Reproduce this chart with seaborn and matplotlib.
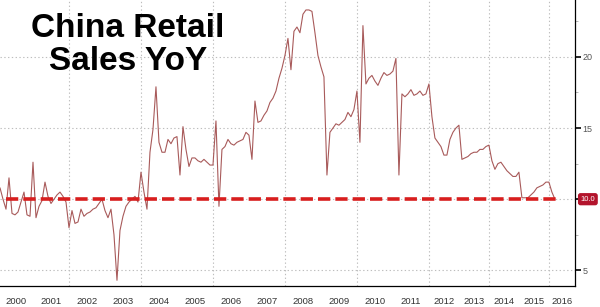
import numpy as np
import pandas as pd
import matplotlib
matplotlib.use("Agg")
import matplotlib.pyplot as plt
import seaborn as sns

# ---- data (China retail sales YoY, %) ----
years = [2000, 2001, 2002, 2003, 2004, 2005, 2006, 2007, 2008,
         2009, 2010, 2011, 2012, 2013, 2014, 2015, 2016]
v2000 = [10.8, 10.0, 9.3, 11.5, 9.0, 8.9, 9.1, 9.8, 10.5, 8.9, 8.8]
v2001 = [12.6, 8.7, 9.5, 9.9, 11.2, 10.2, 9.7, 10.0, 10.3, 10.5, 10.2, 9.8]
v2002 = [8.0, 9.2, 8.3, 8.4, 9.3, 8.8, 9.0, 9.1, 9.3, 9.4, 9.7, 10.0]
v2003 = [9.2, 8.7, 9.3, 7.5, 4.3, 7.8, 8.8, 9.5, 9.8, 10.0, 10.2, 9.8]
v2004 = [11.9, 10.5, 9.3, 13.3, 14.9, 17.9, 14.0, 13.3, 13.3, 14.2, 13.9, 14.3]
v2005 = [14.4, 11.7, 15.1, 13.5, 12.3, 12.9, 12.9, 12.7, 12.6, 12.8, 12.6, 12.4]
v2006 = [12.4, 15.5, 9.5, 13.5, 13.7, 14.2, 13.9, 13.8, 14.0, 14.1, 14.2, 14.7]
v2007 = [14.5, 12.8, 16.9, 15.4, 15.5, 15.9, 16.2, 16.8, 17.1, 17.6, 18.5, 19.2]
v2008 = [20.1, 21.3, 19.1, 21.8, 22.1, 21.7, 23.0, 23.3, 23.3, 23.2, 21.7, 20.1]
v2009 = [19.3, 18.6, 11.7, 14.7, 15.0, 15.3, 15.2, 15.4, 15.6, 16.1, 15.8, 16.3]
v2010 = [17.6, 14.0, 22.2, 18.1, 18.5, 18.7, 18.3, 18.0, 18.5, 18.9, 18.7, 18.8]
v2011 = [19.0, 19.9, 11.7, 17.4, 17.2, 17.4, 17.7, 17.3, 17.4, 17.6, 17.3, 17.4]
v2012 = [18.1, 15.8, 14.3, 14.0, 13.7, 13.1, 13.1, 14.2, 14.7, 15.0]
v2013 = [15.2, 12.8, 12.9, 13.0, 13.2, 13.3, 13.3, 13.5, 13.5, 13.7]
v2014 = [13.8, 12.7, 12.1, 12.5, 12.6, 12.3, 12.0, 11.8, 11.6, 11.6]
v2015 = [11.9, 10.1, 10.1, 10.1, 10.3, 10.5, 10.8, 10.9, 11.0, 11.2]
v2016 = [11.2, 10.5, 10.0]
reference_level = 10.0
title_text = "China Retail\nSales YoY"
y_ticks = [5, 10, 15, 20]
y_minor = [7.5, 12.5, 17.5, 22.5]

per_year = [v2000, v2001, v2002, v2003, v2004, v2005, v2006, v2007, v2008,
            v2009, v2010, v2011, v2012, v2013, v2014, v2015, v2016]
values = [v for ys in per_year for v in ys]
df = pd.DataFrame({"idx": np.arange(len(values)), "yoy": values})
counts = [len(ys) for ys in per_year]
starts = np.concatenate([[0], np.cumsum(counts)[:-1]])

# ---- figure ----
sns.set_theme(style="white")
plt.rcParams["font.family"] = ["Liberation Sans", "DejaVu Sans"]
fig = plt.figure(figsize=(6.0, 3.07), dpi=100)
ax = fig.add_axes([0.0, 21 / 307, 575 / 600, 1 - 21 / 307])

xmax = 191.7
ax.set_xlim(0, xmax)
ax.set_ylim(3.9, 24.0)

# grid
for y in y_ticks:
    ax.axhline(y, color="#bdbdbd", lw=0.8, ls=(0, (1.2, 2.2)), zorder=1)
for s in starts[2::2]:
    ax.axvline(s, color="#bdbdbd", lw=0.8, ls=(0, (1.2, 2.2)), zorder=1)

sns.lineplot(data=df, x="idx", y="yoy", ax=ax, color="#a85a5a", lw=0.8,
             zorder=3, legend=False)
ax.plot([2, len(values) - 0.6], [reference_level, reference_level],
        color="#d81e1e", lw=2.6, ls=(0, (3.4, 1.4)), zorder=4)

# spines
for side in ["left", "top"]:
    ax.spines[side].set_visible(False)
ax.spines["right"].set_color("black")
ax.spines["right"].set_linewidth(0.9)
ax.spines["bottom"].set_color("black")
ax.spines["bottom"].set_linewidth(0.9)

# y axis on right
ax.yaxis.tick_right()
ax.set_yticks(y_ticks)
ax.set_yticklabels(["5", "", "15", "20"])
ax.set_yticks(y_minor, minor=True)
ax.tick_params(axis="y", which="major", direction="out", length=4, width=1.2,
               color="black", labelsize=6.5, labelcolor="#555555", pad=1.5)
ax.tick_params(axis="y", which="minor", direction="out", length=2, width=0.6,
               color="#aaaaaa")
ax.set_ylabel("")
ax.set_xlabel("")

# x axis: boundaries as major ticks, year labels at centers
bounds = list(starts[1:])
ax.set_xticks(bounds)
ax.set_xticklabels([""] * len(bounds))
edges = [0] + bounds + [xmax]
centers = [(edges[i] + edges[i + 1]) / 2 for i in range(len(years))]
ax.set_xticks(centers, minor=True)
ax.set_xticklabels([str(y) for y in years], minor=True)
ax.tick_params(axis="x", which="major", direction="out", length=22, width=0.7,
               color="#555555")
ax.tick_params(axis="x", which="minor", length=0, labelsize=6.8,
               labelcolor="#333333", pad=8)

# last value label
ax.annotate(f"{values[-1]:.1f}", xy=(1.0, values[-1]),
            xycoords=("axes fraction", "data"), xytext=(4, 0),
            textcoords="offset points", ha="left", va="center",
            fontsize=5.5, color="white",
            bbox=dict(boxstyle="round,pad=0.25", fc="#b3142c", ec="#b3142c"),
            annotation_clip=False, zorder=6)

# title
fig.text(128 / 600, 1 - 45 / 307, title_text, ha="center", va="center",
         fontsize=24, fontweight="bold", color="black", linespacing=1.05)

fig.savefig("out.png", dpi=100)
